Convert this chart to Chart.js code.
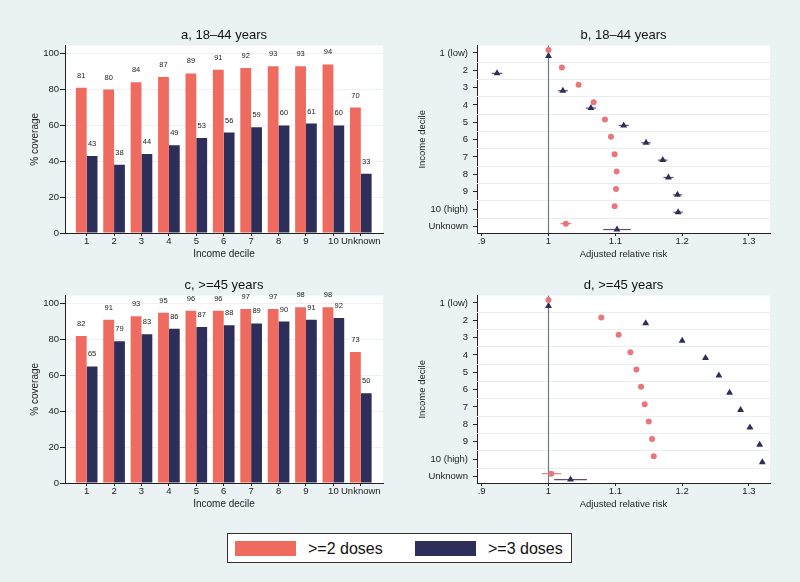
<!DOCTYPE html>
<html>
<head>
<meta charset="utf-8">
<script src="https://cdn.jsdelivr.net/npm/chart.js@4.4.1/dist/chart.umd.min.js"></script>
<style>
  body { margin: 0; background: #eaf2f3; font-family: "Liberation Sans", Arial, sans-serif; }
  #wrap { position: relative; width: 800px; height: 582px; overflow: hidden; }
  #wrap canvas { position: absolute; }
  #legend { position: absolute; left: 227px; top: 533px; width: 343px; height: 28px; background: #fff; border: 1px solid #333; }
  #legend .sw { position: absolute; top: 7px; width: 61px; height: 15px; }
  #legend .tx { position: absolute; top: 0; line-height: 29px; font-size: 16px; color: #111; white-space: nowrap; }
</style>
</head>
<body>
<div id="wrap">
  <canvas id="panelA" width="400" height="262" style="left:0;top:0"></canvas>
  <canvas id="panelB" width="400" height="262" style="left:400px;top:0"></canvas>
  <canvas id="panelC" width="400" height="262" style="left:0;top:250px"></canvas>
  <canvas id="panelD" width="400" height="262" style="left:400px;top:250px"></canvas>
  <div id="legend">
    <div class="sw" style="left:7px;background:#ef6b5f"></div>
    <div class="tx" style="left:80px">&gt;=2 doses</div>
    <div class="sw" style="left:187px;background:#2e2e5b"></div>
    <div class="tx" style="left:260px">&gt;=3 doses</div>
  </div>
</div>
<script>
// categories
const deciles = ["1", "2", "3", "4", "5", "6", "7", "8", "9", "10", "Unknown"];
const rowLabels = ["1 (low)", "2", "3", "4", "5", "6", "7", "8", "9", "10 (high)", "Unknown"];
const pctTicks = [0, 20, 40, 60, 80, 100];
const rrTicks = [0.9, 1, 1.1, 1.2, 1.3];

// % coverage
const young2 = [81, 80, 84, 87, 89, 91, 92, 93, 93, 94, 70];
const young3 = [43, 38, 44, 49, 53, 56, 59, 60, 61, 60, 33];
const old2 = [82, 91, 93, 95, 96, 96, 97, 97, 98, 98, 73];
const old3 = [65, 79, 83, 86, 87, 88, 89, 90, 91, 92, 50];

// adjusted relative risk (point, lower, upper)
const rrYoung2 = [1, 1.020, 1.045, 1.0675, 1.0845, 1.0935, 1.099, 1.102, 1.101, 1.099, 1.026];
const rrYoung2Lo = [1, 1.017, 1.042, 1.065, 1.082, 1.091, 1.097, 1.100, 1.099, 1.097, 1.018];
const rrYoung2Hi = [1, 1.023, 1.048, 1.070, 1.087, 1.096, 1.101, 1.104, 1.103, 1.101, 1.034];
const rrYoung3 = [1, 0.923, 1.0215, 1.0635, 1.1125, 1.146, 1.171, 1.1795, 1.193, 1.194, 1.1025];
const rrYoung3Lo = [1, 0.915, 1.014, 1.056, 1.105, 1.139, 1.164, 1.172, 1.186, 1.187, 1.082];
const rrYoung3Hi = [1, 0.931, 1.029, 1.071, 1.120, 1.153, 1.178, 1.187, 1.200, 1.201, 1.123];
const rrOld2 = [1, 1.079, 1.105, 1.1225, 1.1315, 1.1385, 1.144, 1.150, 1.155, 1.1575, 1.004];
const rrOld2Lo = [1, 1.077, 1.103, 1.121, 1.130, 1.137, 1.142, 1.148, 1.153, 1.156, 0.990];
const rrOld2Hi = [1, 1.081, 1.107, 1.124, 1.133, 1.140, 1.146, 1.152, 1.157, 1.159, 1.019];
const rrOld3 = [1, 1.1455, 1.200, 1.235, 1.255, 1.271, 1.2875, 1.3015, 1.316, 1.320, 1.033];
const rrOld3Lo = [1, 1.142, 1.197, 1.232, 1.252, 1.268, 1.284, 1.298, 1.313, 1.317, 1.0085];
const rrOld3Hi = [1, 1.149, 1.203, 1.238, 1.258, 1.274, 1.291, 1.305, 1.319, 1.323, 1.0575];

const RED = "#ef6b5f";
const NAVY = "#2e2e5b";
const DOT = "#e8767a";
const INK = "#222";
const FONT = "'Liberation Sans', Arial, sans-serif";

Chart.defaults.font.family = FONT;
Chart.defaults.color = INK;
Chart.defaults.animation = false;

// white plot region
const plotBg = {
  id: "plotBg",
  beforeDraw(chart) {
    const { ctx, chartArea: a } = chart;
    ctx.save();
    ctx.fillStyle = "#fff";
    ctx.fillRect(a.left, a.top, a.right - a.left, a.bottom - a.top);
    ctx.restore();
  },
};

// value above every bar
const barLabels = {
  id: "barLabels",
  afterDatasetsDraw(chart) {
    const ctx = chart.ctx;
    ctx.save();
    ctx.font = "7.5px " + FONT;
    ctx.fillStyle = INK;
    ctx.textAlign = "center";
    ctx.textBaseline = "middle";
    chart.data.datasets.forEach((ds, di) => {
      chart.getDatasetMeta(di).data.forEach((bar, i) => {
        ctx.fillText(ds.data[i].y, bar.x, bar.y - 12);
      });
    });
    ctx.restore();
  },
};

// separators between rows and the reference line at 1
const rowLines = {
  id: "rowLines",
  beforeDatasetsDraw(chart) {
    const { ctx, chartArea: a, scales } = chart;
    ctx.save();
    ctx.strokeStyle = "#e8eef1";
    ctx.lineWidth = 1;
    rowLabels.forEach((_, i) => {
      const y = scales.y.getPixelForValue(i + 0.5);
      if (y < a.top || y > a.bottom - 1) return;
      ctx.beginPath();
      ctx.moveTo(a.left, Math.round(y) + 0.5);
      ctx.lineTo(a.right, Math.round(y) + 0.5);
      ctx.stroke();
    });
    const x = scales.x.getPixelForValue(1);
    ctx.strokeStyle = "#6a7b88";
    ctx.lineWidth = 1.2;
    ctx.beginPath();
    ctx.moveTo(x, a.top);
    ctx.lineTo(x, a.bottom);
    ctx.stroke();
    ctx.restore();
  },
};

// confidence intervals
const ciBars = {
  id: "ciBars",
  beforeDatasetsDraw(chart) {
    const { ctx, scales } = chart;
    ctx.save();
    ctx.lineWidth = 1.2;
    chart.data.datasets.forEach((ds, di) => {
      if (!ds.ciLo) return;
      ctx.strokeStyle = ds.ciColor;
      chart.getDatasetMeta(di).data.forEach((pt, i) => {
        if (ds.ciHi[i] - ds.ciLo[i] <= 0) return;
        ctx.beginPath();
        ctx.moveTo(scales.x.getPixelForValue(ds.ciLo[i]), pt.y);
        ctx.lineTo(scales.x.getPixelForValue(ds.ciHi[i]), pt.y);
        ctx.stroke();
      });
    });
    ctx.restore();
  },
};

function titleOpts(text) {
  return {
    display: true,
    text: text,
    fullSize: false,
    color: "#111",
    font: { size: 13, weight: "normal" },
    padding: { top: 28, bottom: 2 },
  };
}

function barPanel(id, title, s2, s3) {
  new Chart(document.getElementById(id), {
    type: "bar",
    data: {
      datasets: [
        { label: ">=2 doses", data: s2.map((v, i) => ({ x: i, y: v })), backgroundColor: RED },
        { label: ">=3 doses", data: s3.map((v, i) => ({ x: i, y: v })), backgroundColor: NAVY },
      ],
    },
    options: {
      responsive: false,
      categoryPercentage: 0.79,
      barPercentage: 1,
      layout: { padding: { left: 0, right: 17, top: 0, bottom: 0 } },
      plugins: { legend: { display: false }, tooltip: { enabled: false }, title: titleOpts(title) },
      scales: {
        x: {
          type: "linear",
          offset: false,
          min: -0.79,
          max: 10.81,
          afterBuildTicks: (s) => { s.ticks = deciles.map((_, i) => ({ value: i })); },
          afterFit: (s) => { s.height = 29; },
          ticks: { callback: (v) => deciles[v], autoSkip: false, maxRotation: 0, font: { size: 9.5 }, padding: 0 },
          grid: { offset: false, drawOnChartArea: false, tickLength: 3, tickColor: INK },
          border: { color: INK },
          title: { display: true, text: "Income decile", font: { size: 10 }, padding: { top: 0, bottom: 2 } },
        },
        y: {
          min: 0,
          max: 104.5,
          afterBuildTicks: (s) => { s.ticks = pctTicks.map((v) => ({ value: v })); },
          afterFit: (s) => { s.width = 65; },
          ticks: { font: { size: 9.5 }, padding: 1 },
          grid: { color: (c) => (c.tick && c.tick.value === 0 ? "rgba(0,0,0,0)" : "#eaf2f3"), tickLength: 5, tickColor: INK },
          border: { color: INK },
          title: { display: true, text: "% coverage", font: { size: 10 }, padding: { top: 29, bottom: 0 } },
        },
      },
    },
    plugins: [plotBg, barLabels],
  });
}

function rrPanel(id, title, p2, lo2, hi2, p3, lo3, hi3) {
  new Chart(document.getElementById(id), {
    type: "scatter",
    data: {
      datasets: [
        {
          label: ">=2 doses",
          data: p2.map((v, i) => ({ x: v, y: i - 0.16 })),
          ciLo: lo2, ciHi: hi2, ciColor: "#d98580",
          pointStyle: "circle", pointRadius: 3, borderWidth: 0,
          backgroundColor: DOT, borderColor: DOT,
        },
        {
          label: ">=3 doses",
          data: p3.map((v, i) => ({ x: v, y: i + 0.18 })),
          ciLo: lo3, ciHi: hi3, ciColor: "#6d4a6c",
          pointStyle: "triangle", pointRadius: 4, borderWidth: 0,
          backgroundColor: NAVY, borderColor: NAVY,
        },
      ],
    },
    options: {
      responsive: false,
      layout: { padding: { left: 0, right: 30, top: 0, bottom: 0 } },
      plugins: { legend: { display: false }, tooltip: { enabled: false }, title: titleOpts(title) },
      scales: {
        x: {
          type: "linear",
          min: 0.893,
          max: 1.3315,
          afterBuildTicks: (s) => { s.ticks = rrTicks.map((v) => ({ value: v })); },
          afterFit: (s) => { s.height = 29; },
          ticks: { callback: (v) => (v < 1 ? String(v).replace(/^0/, "") : String(v)), font: { size: 9.5 }, padding: 0 },
          grid: { drawOnChartArea: false, tickLength: 3, tickColor: INK },
          border: { color: INK },
          title: { display: true, text: "Adjusted relative risk", font: { size: 9.5 }, padding: { top: 0, bottom: 2 } },
        },
        y: {
          type: "linear",
          reverse: true,
          min: -0.42,
          max: 10.38,
          afterBuildTicks: (s) => { s.ticks = rowLabels.map((_, i) => ({ value: i })); },
          afterFit: (s) => { s.width = 77; },
          ticks: { callback: (v) => rowLabels[v], autoSkip: false, font: { size: 9.5 }, padding: 5 },
          grid: { drawOnChartArea: false, tickLength: 4, tickColor: INK },
          border: { color: INK },
          title: { display: true, text: "Income decile", font: { size: 9.5 }, padding: { top: 17, bottom: 0 } },
        },
      },
    },
    plugins: [plotBg, rowLines, ciBars],
  });
}

barPanel("panelA", "a, 18\u201344 years", young2, young3);
rrPanel("panelB", "b, 18\u201344 years", rrYoung2, rrYoung2Lo, rrYoung2Hi, rrYoung3, rrYoung3Lo, rrYoung3Hi);
barPanel("panelC", "c, >=45 years", old2, old3);
rrPanel("panelD", "d, >=45 years", rrOld2, rrOld2Lo, rrOld2Hi, rrOld3, rrOld3Lo, rrOld3Hi);
</script>
</body>
</html>
